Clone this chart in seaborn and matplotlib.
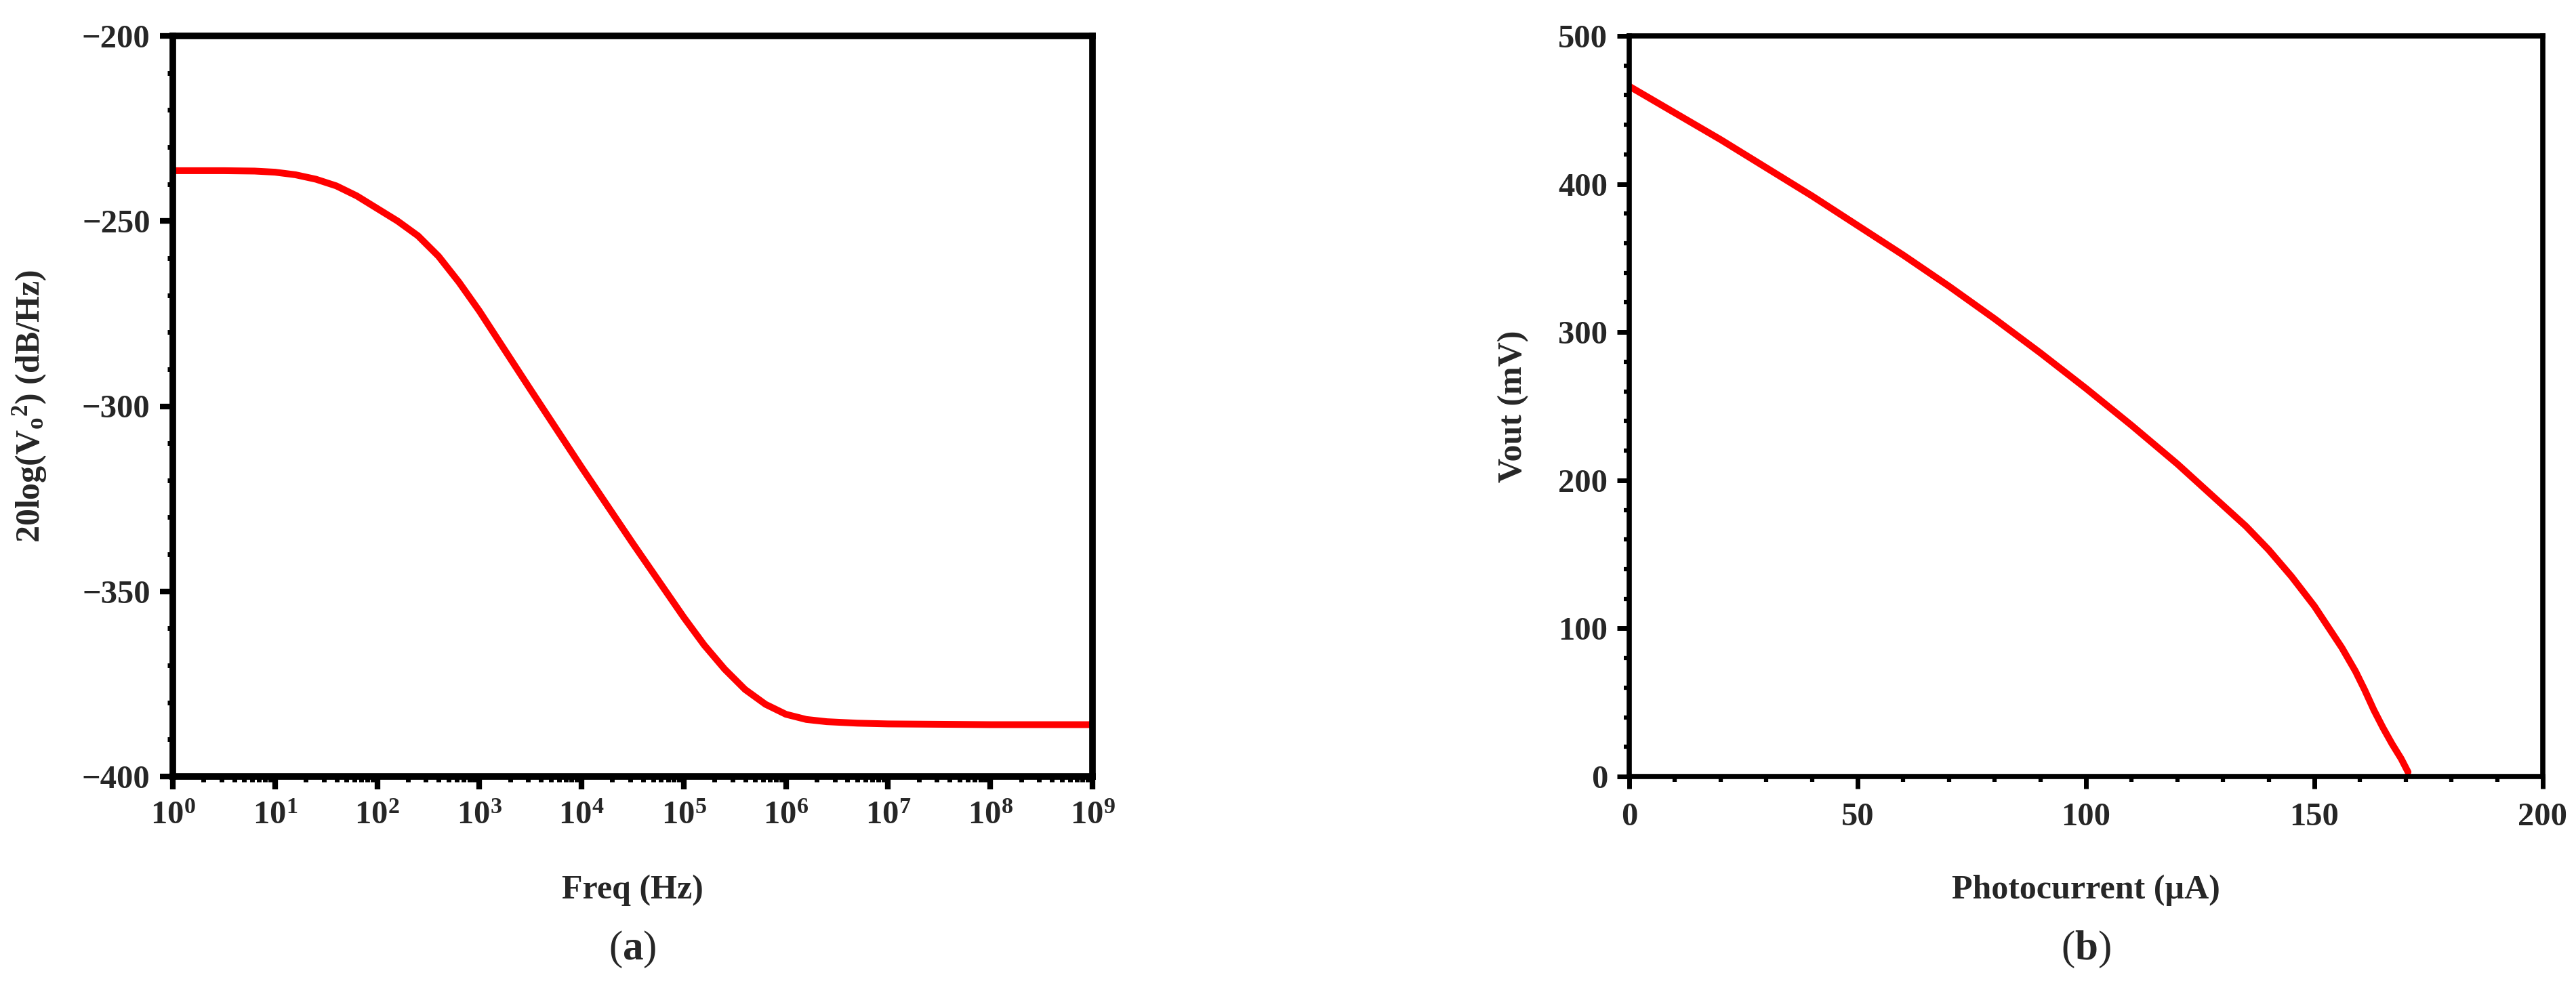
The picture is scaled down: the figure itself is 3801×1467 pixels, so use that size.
import numpy as np
import pandas as pd
import matplotlib
matplotlib.use("Agg")
import matplotlib.pyplot as plt
import seaborn as sns
from matplotlib.ticker import MultipleLocator, LogLocator, LogFormatterMathtext, NullFormatter

# ---- data ----
freq_decade = [0, 0.5, 0.8, 1.0, 1.2, 1.4, 1.6, 1.8, 2.0, 2.2, 2.4, 2.6, 2.8, 3.0,
               3.5, 4.0, 4.5, 5.0, 5.2, 5.4, 5.6, 5.8, 6.0, 6.2, 6.4, 6.7, 7.0,
               8.0, 9.0]
noise_db = [-236.4, -236.4, -236.5, -236.8, -237.5, -238.7, -240.5, -243.2, -246.6,
            -250.0, -254.0, -259.5, -266.5, -274.3,
            -295.5, -316.5, -337.0, -357.0, -364.5, -371.0, -376.5, -380.5, -383.2,
            -384.6, -385.2, -385.6, -385.8, -386.0, -386.0]

photocurrent = [0, 10, 20, 30, 40, 50, 60, 70, 80, 90, 100, 110, 120, 130, 135, 140,
                145, 150, 153, 156, 159, 161, 163, 165, 167, 169, 170.5]
vout = [466, 448, 430, 411, 392, 372, 352, 331, 309, 286, 262, 237, 211, 183, 169, 153,
        135, 115, 101, 87, 71, 58.5, 45, 33, 22, 12, 3]

xtick_decades = list(range(0, 10))
left_yticks = [-400, -350, -300, -250, -200]
right_xticks = [0, 50, 100, 150, 200]
right_yticks = [0, 100, 200, 300, 400, 500]

sns.set_theme(style="ticks")
plt.rcParams['font.family'] = ['Liberation Serif', 'DejaVu Serif']
plt.rcParams['font.weight'] = 'bold'
plt.rcParams['mathtext.fontset'] = 'custom'
plt.rcParams['mathtext.rm'] = 'Liberation Serif:bold'
plt.rcParams['mathtext.it'] = 'Liberation Serif:bold'
plt.rcParams['mathtext.bf'] = 'Liberation Serif:bold'
plt.rcParams['mathtext.default'] = 'regular'
plt.rcParams['axes.unicode_minus'] = True

fig = plt.figure(figsize=(38.01, 14.67), dpi=100)
fig.patch.set_facecolor('white')

ax1 = fig.add_axes([255/3801, (1467-1146)/1467, 1357/3801, 1093/1467])
ax2 = fig.add_axes([2404/3801, (1467-1146)/1467, 1348/3801, 1093/1467])

df1 = pd.DataFrame({"f": [10.0**d for d in freq_decade], "db": noise_db})
df2 = pd.DataFrame({"i": photocurrent, "v": vout})

sns.lineplot(data=df1, x="f", y="db", ax=ax1, color="#FF0000", lw=7.2, sort=True,
             solid_capstyle='round', solid_joinstyle='round')
sns.lineplot(data=df2, x="i", y="v", ax=ax2, color="#FF0000", lw=7.2, sort=True,
             solid_capstyle='round', solid_joinstyle='round')

TICK_FS = 35
LABEL_FS = 36

# ---- left ----
ax1.set_xscale('log')
ax1.set_xlim(1, 1e9)
ax1.set_ylim(-400, -200)
ax1.set_xticks([10.0**d for d in xtick_decades])
ax1.xaxis.set_major_formatter(LogFormatterMathtext())
ax1.xaxis.set_minor_locator(LogLocator(base=10, subs=np.arange(2, 10), numticks=100))
ax1.xaxis.set_minor_formatter(NullFormatter())
ax1.set_yticks(left_yticks)
ax1.yaxis.set_minor_locator(MultipleLocator(10))
for sp in ax1.spines.values():
    sp.set_linewidth(7.0)
    sp.set_color('black')
ax1.tick_params(which='major', direction='out', length=14, width=6, pad=10,
                labelsize=TICK_FS, color='black')
ax1.tick_params(which='minor', direction='out', length=6, width=5, color='black')
ax1.tick_params(axis='x', which='major', pad=12)
ax1.set_xlabel("Freq (Hz)", fontsize=LABEL_FS, fontweight='bold')
ax1.set_ylabel(r"20log(V$_\mathrm{o}$$^\mathrm{2}$) (dB/Hz)", fontsize=LABEL_FS, fontweight='bold')
ax1.xaxis.set_label_coords(0.5, -0.132)
ax1.yaxis.set_label_coords(-0.135, 0.5)

# ---- right ----
ax2.set_xlim(0, 200)
ax2.set_ylim(0, 500)
ax2.set_xticks(right_xticks)
ax2.set_yticks(right_yticks)
ax2.xaxis.set_minor_locator(MultipleLocator(10))
ax2.yaxis.set_minor_locator(MultipleLocator(20))
for sp in ax2.spines.values():
    sp.set_linewidth(5.5)
    sp.set_color('black')
ax2.tick_params(which='major', direction='out', length=13, width=5, pad=10,
                labelsize=TICK_FS, color='black')
ax2.tick_params(which='minor', direction='out', length=6, width=4.5, color='black')
ax2.tick_params(axis='x', which='major', pad=14)
ax2.set_xlabel("Photocurrent (µA)", fontsize=LABEL_FS, fontweight='bold')
ax2.set_ylabel("Vout (mV)", fontsize=LABEL_FS, fontweight='bold')
ax2.xaxis.set_label_coords(0.5, -0.132)
ax2.yaxis.set_label_coords(-0.11, 0.5)

for lab in ax1.get_xticklabels() + ax1.get_yticklabels() + ax2.get_xticklabels() + ax2.get_yticklabels():
    lab.set_fontweight('bold')

for ax in (ax1, ax2):
    leg = ax.get_legend()
    if leg is not None:
        leg.remove()

# captions
fig.text((255+1612)/2/3801, 1 - 1401/1467, r"($\mathbf{a}$)", ha='center', va='center',
         fontsize=44, fontweight='normal')
fig.text((2404+3752)/2/3801, 1 - 1401/1467, r"($\mathbf{b}$)", ha='center', va='center',
         fontsize=44, fontweight='normal')

fig.savefig("out.png", dpi=100, facecolor='white')
